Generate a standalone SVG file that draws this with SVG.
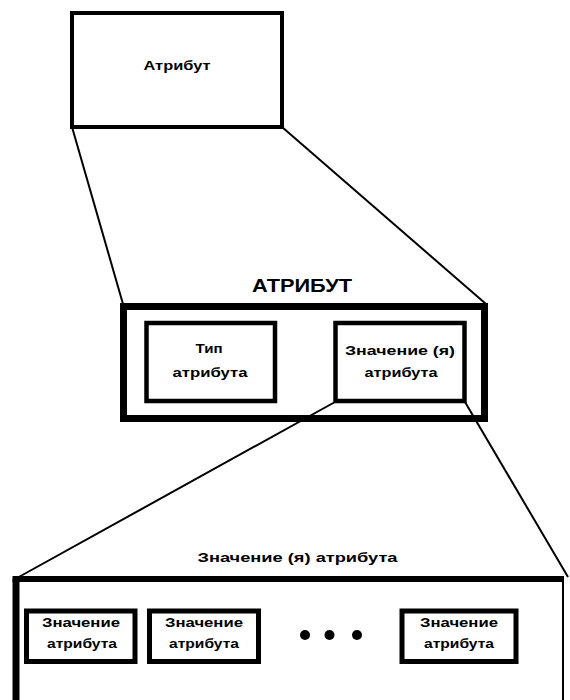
<svg xmlns="http://www.w3.org/2000/svg" width="570" height="700" viewBox="0 0 570 700">
<style>
.t{font-family:"Liberation Sans",Arial,sans-serif;font-weight:bold;font-size:13px;fill:#000;text-anchor:middle}
.box{fill:#fff;stroke:#000}
.ln{stroke:#000;stroke-width:2;fill:none}
</style>
<rect width="570" height="700" fill="#fff"/>
<g id="attr-top">
<rect class="box" x="72" y="13" width="210" height="114" stroke-width="4"/>
<text class="t" x="177" y="70" textLength="67" lengthAdjust="spacingAndGlyphs">Атрибут</text>
</g>
<g id="attr-main">
<text class="t" x="302" y="292" style="font-size:18px" textLength="100" lengthAdjust="spacingAndGlyphs">АТРИБУТ</text>
<rect class="box" x="123.5" y="306.5" width="361" height="112" stroke-width="7"/>
</g>
<g id="attr-type">
<rect class="box" x="146.5" y="323" width="128.5" height="78" stroke-width="4.5"/>
<text class="t" x="209" y="353" textLength="27" lengthAdjust="spacingAndGlyphs">Тип</text>
<text class="t" x="210" y="377" textLength="75" lengthAdjust="spacingAndGlyphs">атрибута</text>
</g>
<g id="attr-values">
<rect class="box" x="335.5" y="323" width="129" height="78" stroke-width="4.5"/>
<text class="t" x="400" y="355" textLength="110" lengthAdjust="spacingAndGlyphs">Значение (я)</text>
<text class="t" x="401" y="377" textLength="73" lengthAdjust="spacingAndGlyphs">атрибута</text>
</g>
<g id="values-container">
<text class="t" x="297.5" y="562" textLength="200" lengthAdjust="spacingAndGlyphs">Значение (я) атрибута</text>
<rect x="16" y="579" width="547" height="130" fill="#fff" stroke="none"/>
<line x1="16" y1="579" x2="16" y2="705" stroke="#000" stroke-width="7"/>
<line x1="12.5" y1="579" x2="563" y2="579" stroke="#000" stroke-width="6"/>
<line x1="563" y1="576" x2="563" y2="705" stroke="#000" stroke-width="2"/>
</g>
<g id="value-1">
<rect class="box" x="26.5" y="611" width="108.5" height="50.5" stroke-width="5"/>
<text class="t" x="81" y="627" textLength="78" lengthAdjust="spacingAndGlyphs">Значение</text>
<text class="t" x="82" y="648" textLength="70" lengthAdjust="spacingAndGlyphs">атрибута</text>
</g>
<g id="value-2">
<rect class="box" x="149.5" y="611" width="109" height="50.5" stroke-width="5"/>
<text class="t" x="204" y="627" textLength="78" lengthAdjust="spacingAndGlyphs">Значение</text>
<text class="t" x="204" y="648" textLength="70" lengthAdjust="spacingAndGlyphs">атрибута</text>
</g>
<g id="ellipsis">
<circle cx="305" cy="635" r="5" fill="#000"/>
<circle cx="329.5" cy="635" r="5" fill="#000"/>
<circle cx="357" cy="635" r="5" fill="#000"/>
</g>
<g id="value-n">
<rect class="box" x="402" y="611" width="114" height="50.5" stroke-width="5"/>
<text class="t" x="459" y="627" textLength="78" lengthAdjust="spacingAndGlyphs">Значение</text>
<text class="t" x="459" y="648" textLength="70" lengthAdjust="spacingAndGlyphs">атрибута</text>
</g>
<g id="connectors">
<line class="ln" x1="72" y1="127" x2="123" y2="304"/>
<line class="ln" x1="282" y1="127" x2="486" y2="304"/>
<line class="ln" x1="335" y1="402" x2="17" y2="578"/>
<line class="ln" x1="465" y1="402" x2="568" y2="577"/>
</g>
</svg>
